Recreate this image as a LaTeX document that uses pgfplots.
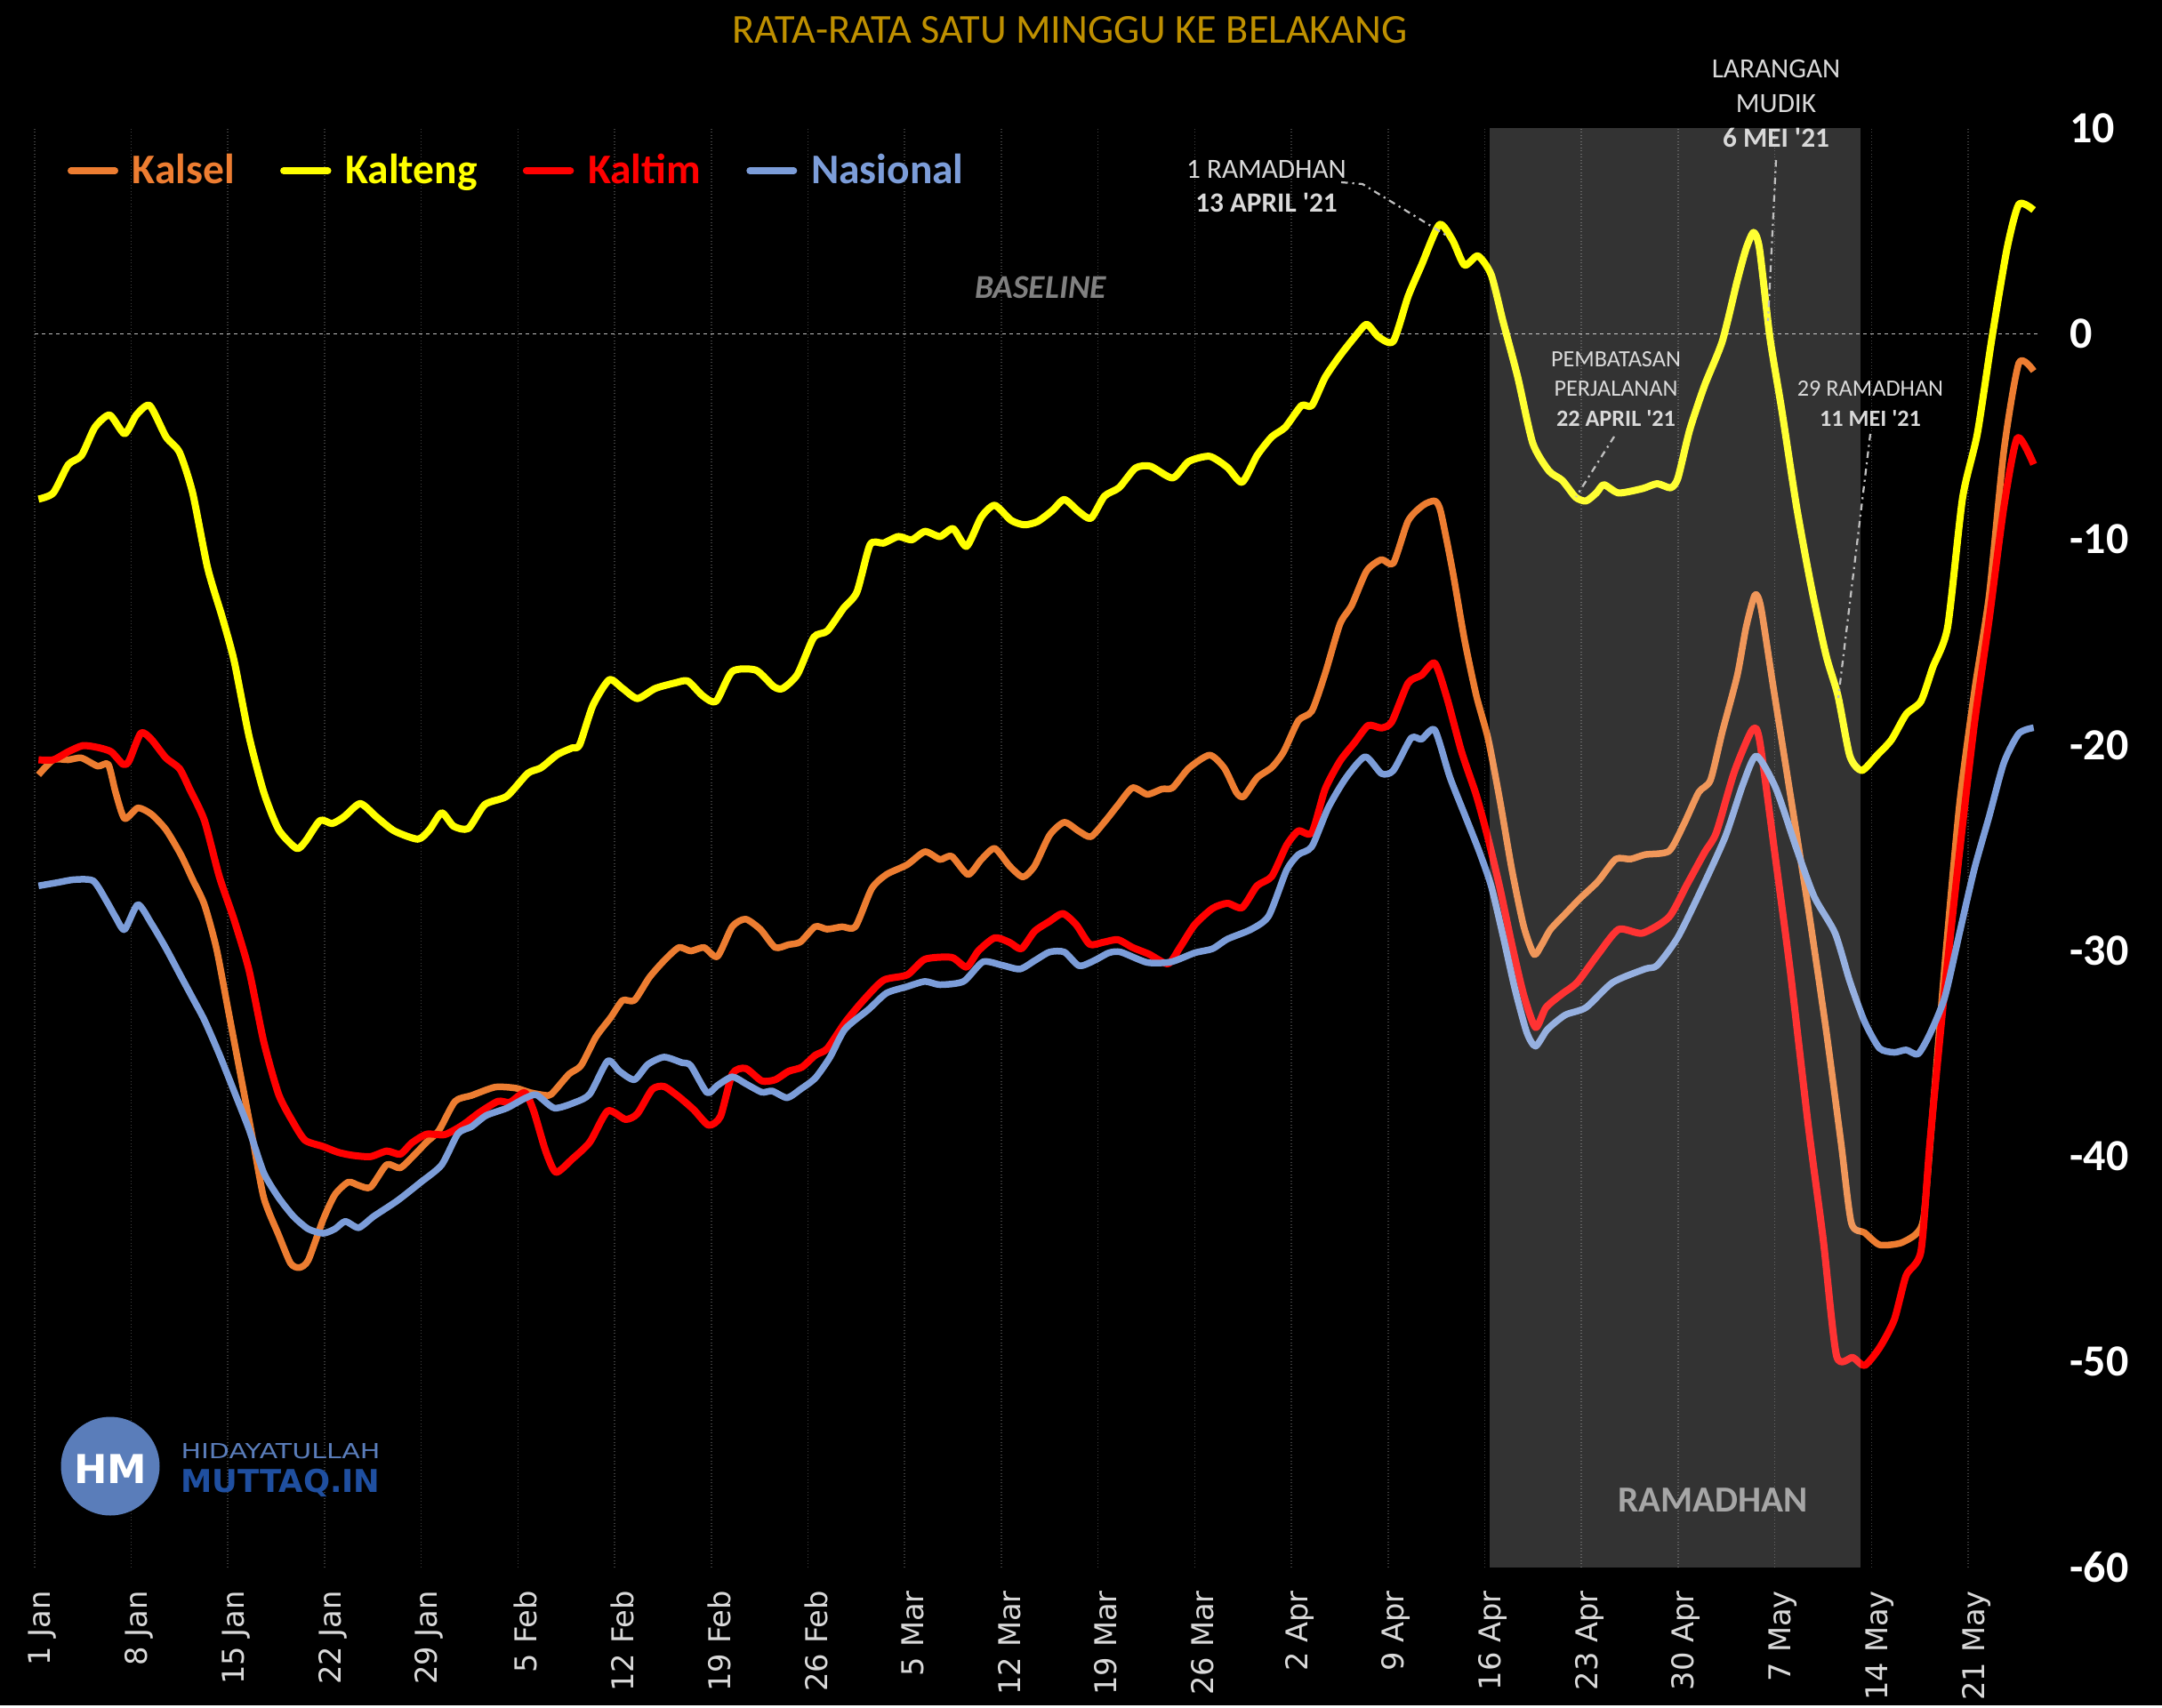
\documentclass[border=0pt]{standalone}
\usepackage{pgfplots}
\pgfplotsset{compat=1.18}
\usepackage{fontspec}
\setmainfont{Carlito}
\newfontfamily\dejavu{DejaVu Sans}
\definecolor{kalsel}{HTML}{ED7D31}
\definecolor{kalteng}{HTML}{FFFF00}
\definecolor{kaltim}{HTML}{FF0000}
\definecolor{nasional}{HTML}{7C9DD9}
\definecolor{titlec}{HTML}{BF9000}
\definecolor{annot}{HTML}{D9D9D9}
\definecolor{gridc}{HTML}{404040}
\definecolor{logoblue}{HTML}{5A7DBA}
\definecolor{logodark}{HTML}{1F4FA0}
\definecolor{leader}{HTML}{BFBFBF}
\newcommand{\q}{\textquotesingle}

\pgfplotstableread{
d v
0.29 -8.04
1.36 -7.74
2.44 -6.37
3.4 -5.92
4.37 -4.55
5.44 -3.95
6.52 -4.86
7.37 -3.95
8.34 -3.49
9.52 -5.01
10.5 -5.77
11.45 -7.74
12.53 -11.38
13.6 -13.8
14.46 -15.93
15.53 -19.57
16.6 -22.3
17.68 -24.12
18.97 -25.03
19.6 -24.7
20.68 -23.67
21.54 -23.82
22.4 -23.5
23.58 -22.85
24.76 -23.5
26.05 -24.18
27.76 -24.58
28.6 -24.12
29.48 -23.3
30.34 -23.95
31.41 -24.06
32.6 -22.9
34.2 -22.49
35.71 -21.38
36.67 -21.11
37.85 -20.47
38.93 -20.14
39.46 -20.0
40.43 -18.07
41.61 -16.83
42.58 -17.25
43.65 -17.74
44.94 -17.25
46.44 -16.97
47.3 -16.89
48.37 -17.6
49.34 -17.88
50.52 -16.42
52.23 -16.36
53.52 -17.16
54.17 -17.25
55.24 -16.56
56.42 -14.76
57.39 -14.46
58.57 -13.35
59.54 -12.56
60.5 -10.25
61.47 -10.18
62.54 -9.86
63.51 -10.02
64.47 -9.61
65.55 -9.86
66.51 -9.48
67.48 -10.34
68.55 -8.91
69.52 -8.34
70.7 -9.07
71.66 -9.29
72.63 -9.13
73.7 -8.59
74.56 -8.06
75.63 -8.66
76.49 -8.97
77.46 -7.9
78.53 -7.48
79.71 -6.53
80.79 -6.44
82.4 -7.01
83.57 -6.21
85.08 -5.96
86.37 -6.5
87.43 -7.22
88.51 -5.92
89.58 -5.01
90.55 -4.55
91.73 -3.49
92.48 -3.49
93.44 -2.12
94.52 -1.06
95.59 -0.15
96.45 0.46
97.31 -0.15
98.38 -0.36
99.45 1.82
100.42 3.34
101.71 5.31
102.67 4.55
103.53 3.34
104.5 3.79
105.46 2.88
106.32 0.61
107.39 -2.12
108.47 -5.31
109.65 -6.67
110.61 -7.13
111.58 -7.95
112.33 -8.13
113.08 -7.74
113.62 -7.34
114.69 -7.74
116.41 -7.53
117.48 -7.29
118.45 -7.49
118.98 -7.02
119.84 -4.67
120.91 -2.52
122.2 -0.36
123.28 2.58
123.92 4.14
124.46 4.93
124.89 4.14
125.64 -0.16
126.5 -3.69
127.57 -8.39
128.64 -12.31
129.71 -15.64
130.57 -17.6
131.43 -20.53
132.29 -21.24
133.36 -20.53
134.44 -19.75
135.51 -18.5
136.58 -17.87
137.44 -16.22
138.51 -14.27
139.59 -8.0
140.66 -4.87
141.73 -0.16
142.81 4.14
143.67 6.3
144.74 6.02
}\kalteng

\pgfplotstableread{
d v
0.29 -21.45
1.36 -20.72
2.44 -20.72
3.4 -20.63
4.58 -21.03
5.34 -20.94
5.87 -22.3
6.52 -23.58
7.48 -23.06
8.45 -23.36
9.52 -24.12
10.6 -25.34
11.45 -26.55
12.3 -27.76
13.17 -29.89
14.03 -32.92
14.89 -35.95
15.75 -38.99
16.6 -42.02
17.68 -43.84
18.54 -45.21
19.18 -45.42
19.82 -45.06
20.9 -43.08
21.75 -41.87
22.72 -41.26
23.47 -41.42
24.33 -41.51
25.5 -40.41
26.48 -40.57
27.55 -39.9
28.41 -39.3
29.27 -38.76
30.45 -37.33
31.63 -37.05
33.35 -36.64
34.85 -36.69
35.92 -36.91
37.21 -37.05
37.64 -36.83
38.71 -36.0
39.57 -35.59
40.64 -34.21
41.72 -33.25
42.58 -32.42
43.43 -32.42
44.51 -31.31
45.58 -30.49
46.65 -29.85
47.51 -30.02
48.48 -29.85
49.44 -30.29
50.52 -28.83
51.48 -28.47
52.56 -28.97
53.63 -29.85
54.6 -29.71
55.45 -29.58
56.53 -28.83
57.39 -28.96
58.46 -28.84
59.43 -28.84
60.61 -26.99
61.68 -26.3
63.19 -25.82
64.47 -25.19
65.55 -25.57
66.4 -25.41
67.59 -26.3
68.55 -25.57
69.52 -25.03
70.59 -25.88
71.56 -26.42
72.41 -25.88
73.49 -24.39
74.56 -23.76
75.63 -24.2
76.49 -24.46
77.57 -23.66
78.43 -22.93
79.5 -22.08
80.57 -22.4
81.64 -22.14
82.4 -22.08
83.57 -21.13
85.08 -20.49
86.15 -21.13
87.01 -22.3
87.54 -22.51
88.51 -21.6
89.58 -21.09
90.44 -20.33
91.51 -18.81
92.48 -18.35
93.44 -16.53
94.52 -14.11
95.37 -13.2
96.45 -11.53
97.52 -10.98
98.38 -11.16
99.45 -9.1
100.53 -8.34
101.38 -8.13
101.81 -8.65
102.67 -11.53
103.53 -14.87
104.39 -17.6
105.25 -19.72
106.11 -22.75
106.97 -26.09
107.82 -28.82
108.57 -30.19
109.11 -29.73
109.76 -28.97
110.83 -28.21
111.9 -27.46
113.19 -26.64
114.48 -25.55
115.55 -25.55
116.62 -25.33
118.34 -25.16
119.41 -23.86
120.49 -22.3
121.34 -21.71
122.2 -19.36
123.28 -16.62
123.92 -14.27
124.56 -12.7
124.99 -13.29
125.85 -17.01
127.14 -22.49
128.43 -27.98
129.71 -33.85
130.79 -39.33
131.54 -43.25
132.5 -43.72
133.58 -44.31
135.08 -44.23
136.26 -43.76
136.8 -42.86
137.44 -37.77
138.3 -30.72
139.37 -22.88
140.45 -17.4
141.52 -12.7
142.59 -5.65
143.67 -1.42
144.74 -1.81
}\kalsel

\pgfplotstableread{
d v
0.29 -20.72
1.36 -20.72
2.44 -20.33
3.5 -20.03
4.58 -20.12
5.55 -20.33
6.41 -20.94
6.84 -20.78
7.7 -19.42
8.45 -19.72
9.52 -20.63
10.5 -21.15
11.24 -22.15
12.3 -23.67
13.38 -26.4
14.46 -28.52
15.53 -30.95
16.6 -34.44
17.68 -37.0
18.75 -38.38
19.6 -39.23
20.9 -39.53
21.97 -39.81
23.04 -39.96
24.33 -40.02
25.5 -39.75
26.48 -39.9
27.33 -39.35
28.4 -38.93
29.7 -38.95
30.99 -38.49
32.27 -37.85
33.56 -37.33
34.42 -37.38
35.49 -36.91
36.14 -37.8
37.0 -39.73
37.75 -40.78
38.93 -40.14
40.21 -39.31
41.5 -37.8
42.79 -38.21
43.65 -37.93
44.72 -36.75
45.58 -36.61
46.65 -37.11
47.73 -37.74
48.8 -38.49
49.66 -38.07
50.52 -36.0
51.48 -35.73
52.66 -36.34
53.63 -36.28
54.6 -35.87
55.56 -35.67
56.53 -35.09
57.39 -34.77
58.68 -33.5
59.97 -32.45
61.47 -31.44
63.19 -31.18
64.47 -30.42
66.4 -30.33
67.48 -30.8
68.34 -30.01
69.52 -29.38
70.59 -29.6
71.45 -29.91
72.41 -29.06
73.49 -28.58
74.45 -28.2
75.42 -28.74
76.39 -29.69
77.35 -29.6
78.43 -29.47
79.5 -29.85
80.68 -30.17
82.07 -30.64
82.93 -29.85
84.0 -28.74
85.29 -27.95
86.37 -27.7
87.43 -27.91
88.51 -26.85
89.58 -26.39
90.65 -24.88
91.51 -24.18
92.48 -24.27
93.44 -22.15
94.52 -20.78
95.59 -19.87
96.56 -19.05
97.52 -19.17
98.27 -18.87
99.45 -16.99
100.42 -16.6
101.38 -16.02
102.24 -17.66
103.32 -20.33
104.39 -22.45
105.25 -24.57
106.11 -27.0
106.97 -29.73
107.82 -32.16
108.68 -33.74
109.43 -32.77
110.61 -32.1
111.69 -31.55
113.19 -30.19
114.69 -28.97
116.41 -29.15
118.34 -28.37
119.63 -26.8
120.91 -25.23
121.77 -24.25
123.06 -21.32
124.35 -19.28
124.89 -19.75
126.07 -25.62
127.14 -31.11
128.43 -38.55
129.5 -44.03
130.47 -49.71
131.65 -49.79
132.5 -50.18
133.58 -49.32
134.65 -47.95
135.51 -45.8
136.58 -44.62
137.23 -39.33
138.3 -31.89
139.37 -25.23
140.45 -18.97
141.52 -13.88
142.59 -8.39
143.56 -5.06
144.74 -6.35
}\kaltim

\pgfplotstableread{
d v
0.29 -26.85
1.58 -26.7
2.87 -26.55
4.26 -26.61
5.23 -27.61
5.87 -28.37
6.52 -28.98
7.48 -27.76
8.45 -28.67
9.52 -29.89
10.6 -31.25
11.45 -32.31
12.3 -33.38
13.38 -35.04
14.46 -36.86
15.53 -38.69
16.6 -40.81
17.68 -42.02
18.75 -42.93
19.82 -43.54
20.9 -43.75
21.75 -43.54
22.5 -43.17
23.47 -43.48
24.55 -42.93
26.26 -42.17
27.98 -41.26
29.48 -40.42
30.66 -38.9
31.63 -38.57
32.7 -38.02
34.2 -37.66
35.49 -37.19
36.35 -37.02
37.64 -37.66
39.14 -37.38
40.21 -36.97
41.5 -35.37
42.36 -35.87
43.43 -36.28
44.4 -35.54
45.58 -35.18
46.87 -35.45
47.51 -35.59
48.69 -36.91
49.44 -36.56
50.52 -36.14
51.48 -36.47
52.66 -36.89
53.41 -36.83
54.49 -37.16
55.45 -36.75
56.53 -36.2
57.6 -35.18
58.68 -33.82
60.39 -32.86
61.68 -32.07
63.19 -31.75
64.47 -31.5
65.55 -31.66
67.26 -31.5
68.66 -30.55
70.05 -30.71
71.34 -30.9
72.41 -30.49
73.49 -30.07
74.56 -30.07
75.63 -30.74
76.71 -30.49
77.78 -30.11
78.64 -30.07
80.57 -30.58
82.29 -30.55
84.0 -30.11
85.29 -29.91
86.37 -29.44
88.08 -28.97
89.36 -28.31
90.65 -26.09
91.51 -25.33
92.48 -24.94
93.66 -23.06
94.95 -21.6
96.34 -20.57
97.52 -21.39
98.38 -21.24
99.67 -19.66
100.42 -19.72
101.38 -19.27
102.46 -21.54
103.53 -23.36
104.6 -25.18
105.46 -26.85
106.32 -29.28
107.18 -31.86
108.04 -33.98
108.68 -34.65
109.54 -33.83
110.83 -33.13
112.33 -32.77
114.26 -31.55
116.62 -30.89
117.48 -30.72
118.98 -29.35
120.7 -27.0
122.42 -24.45
123.7 -21.9
124.67 -20.53
126.07 -22.1
127.57 -25.04
128.86 -27.39
130.36 -29.15
131.43 -31.5
132.5 -33.46
133.58 -34.75
134.65 -34.95
135.51 -34.83
136.37 -35.03
137.23 -34.05
138.3 -32.28
139.37 -29.15
140.45 -26.02
141.52 -23.47
142.59 -20.85
143.67 -19.44
144.74 -19.16
}\nasional

\begin{document}
\begin{tikzpicture}
\begin{scope}[x=0.4pt,y=-0.4pt]
\fill[black] (0,0) rectangle (2431,1918);
\end{scope}
\begin{axis}[
  at={(15.52pt,-705.12pt)}, anchor=south west,
  scale only axis, width=906.96pt, height=647.44pt,
  xmin=0, xmax=146, ymin=-60, ymax=10,
  axis line style={draw=none}, tick style={draw=none},
  xtick={0,7,...,140},
  xticklabels={1 Jan,8 Jan,15 Jan,22 Jan,29 Jan,5 Feb,12 Feb,19 Feb,26 Feb,5 Mar,12 Mar,19 Mar,26 Mar,2 Apr,9 Apr,16 Apr,23 Apr,30 Apr,7 May,14 May,21 May},
  xticklabel style={font=\dejavu\fontsize{13.5}{16}\selectfont, text=annot, xshift=3.6pt, yshift=-7pt, rotate=90, anchor=east},
  ytick={-60,-50,...,10},
  yticklabels={-60,-50,-40,-30,-20,-10,0,10},
  yticklabel pos=right,
  yticklabel style={font=\bfseries\fontsize{20}{24}\selectfont, text=white, anchor=west, xshift=5pt},
  xmajorgrids, grid style={gridc, densely dotted, line width=0.6pt},
  legend columns=4,
  legend style={at={(0.0129,0.9705)}, anchor=west, draw=none, fill=none,
    font=\bfseries\fontsize{19}{22}\selectfont,
    /tikz/every odd column/.append style={column sep=4.3pt},
    /tikz/every even column/.append style={column sep=18.5pt}},
  legend image code/.code={\draw[#1, line cap=round] (0pt,0pt) -- (19.8pt,0pt);},
  every axis plot/.append style={line width=3pt, line join=round, smooth, tension=0.4},
]
\addplot[forget plot, leader, dashed, line width=0.6pt, dash pattern=on 1.6pt off 1.6pt, sharp plot] coordinates {(0,0) (145,0)};
\addplot[kalsel] table[x=d,y=v]{\kalsel};
\addlegendentry{\textcolor{kalsel}{Kalsel}}
\addplot[kalteng, line width=3.2pt] table[x=d,y=v]{\kalteng};
\addlegendentry{\textcolor{kalteng}{Kalteng}}
\addplot[kaltim, line width=3.2pt] table[x=d,y=v]{\kaltim};
\addlegendentry{\textcolor{kaltim}{Kaltim}}
\addplot[nasional] table[x=d,y=v]{\nasional};
\addlegendentry{\textcolor{nasional}{Nasional}}
\fill[white, opacity=0.2] (axis cs:105.35,-60) rectangle (axis cs:132.2,10);
\end{axis}
\begin{scope}[x=0.4pt,y=-0.4pt]
% title
\node[text=titlec, font=\fontsize{18.5}{22}\selectfont] at (1203,34) {RATA-RATA SATU MINGGU KE BELAKANG};
% baseline label
\node[font=\bfseries\itshape\fontsize{15}{18}\selectfont, text=gray] at (1170,323) {BASELINE};
% ramadhan label
\node[text=black!35, font=\bfseries\fontsize{16.5}{20}\selectfont] at (1926,1687) {RAMADHAN};
% annotations
\node[text=annot, align=center, font=\fontsize{12.5}{15.2}\selectfont] at (1424,210) {1 RAMADHAN\\\textbf{13 APRIL \q21}};
\node[text=annot, align=center, font=\fontsize{12.5}{15.6}\selectfont] at (1997,116) {LARANGAN\\MUDIK\\\textbf{6 MEI \q21}};
\node[text=annot, align=center, font=\fontsize{10.5}{13.4}\selectfont] at (1817,437) {PEMBATASAN\\PERJALANAN\\\textbf{22 APRIL \q21}};
\node[text=annot, align=center, font=\fontsize{10.5}{13.6}\selectfont] at (2103,454) {29 RAMADHAN\\\textbf{11 MEI \q21}};
% leaders
\draw[leader, line width=0.9pt, dash dot] (1508,205) -- (1532,207) -- (1630,267);
\draw[leader, line width=0.9pt, dash dot] (1997,180) -- (1988,361);
\draw[leader, line width=0.9pt, dash dot] (1815,491) -- (1772,559);
\draw[leader, line width=0.9pt, dash dot] (2103,488) -- (2067,785);
% logo
\fill[logoblue] (124,1649) circle (55.5);
\node[text=white, inner sep=0pt, font=\dejavu\bfseries\fontsize{17.9}{20}\selectfont] at (124,1652) {HM};
\node[anchor=base west, inner sep=0pt, text=logoblue] at (203,1640) {\resizebox{89.6pt}{6.8pt}{\dejavu HIDAYATULLAH}};
\node[anchor=base west, inner sep=0pt, text=logodark] at (203,1678) {\resizebox{89.6pt}{!}{\dejavu\bfseries MUTTAQ.IN}};
\end{scope}
\end{tikzpicture}
\end{document}
